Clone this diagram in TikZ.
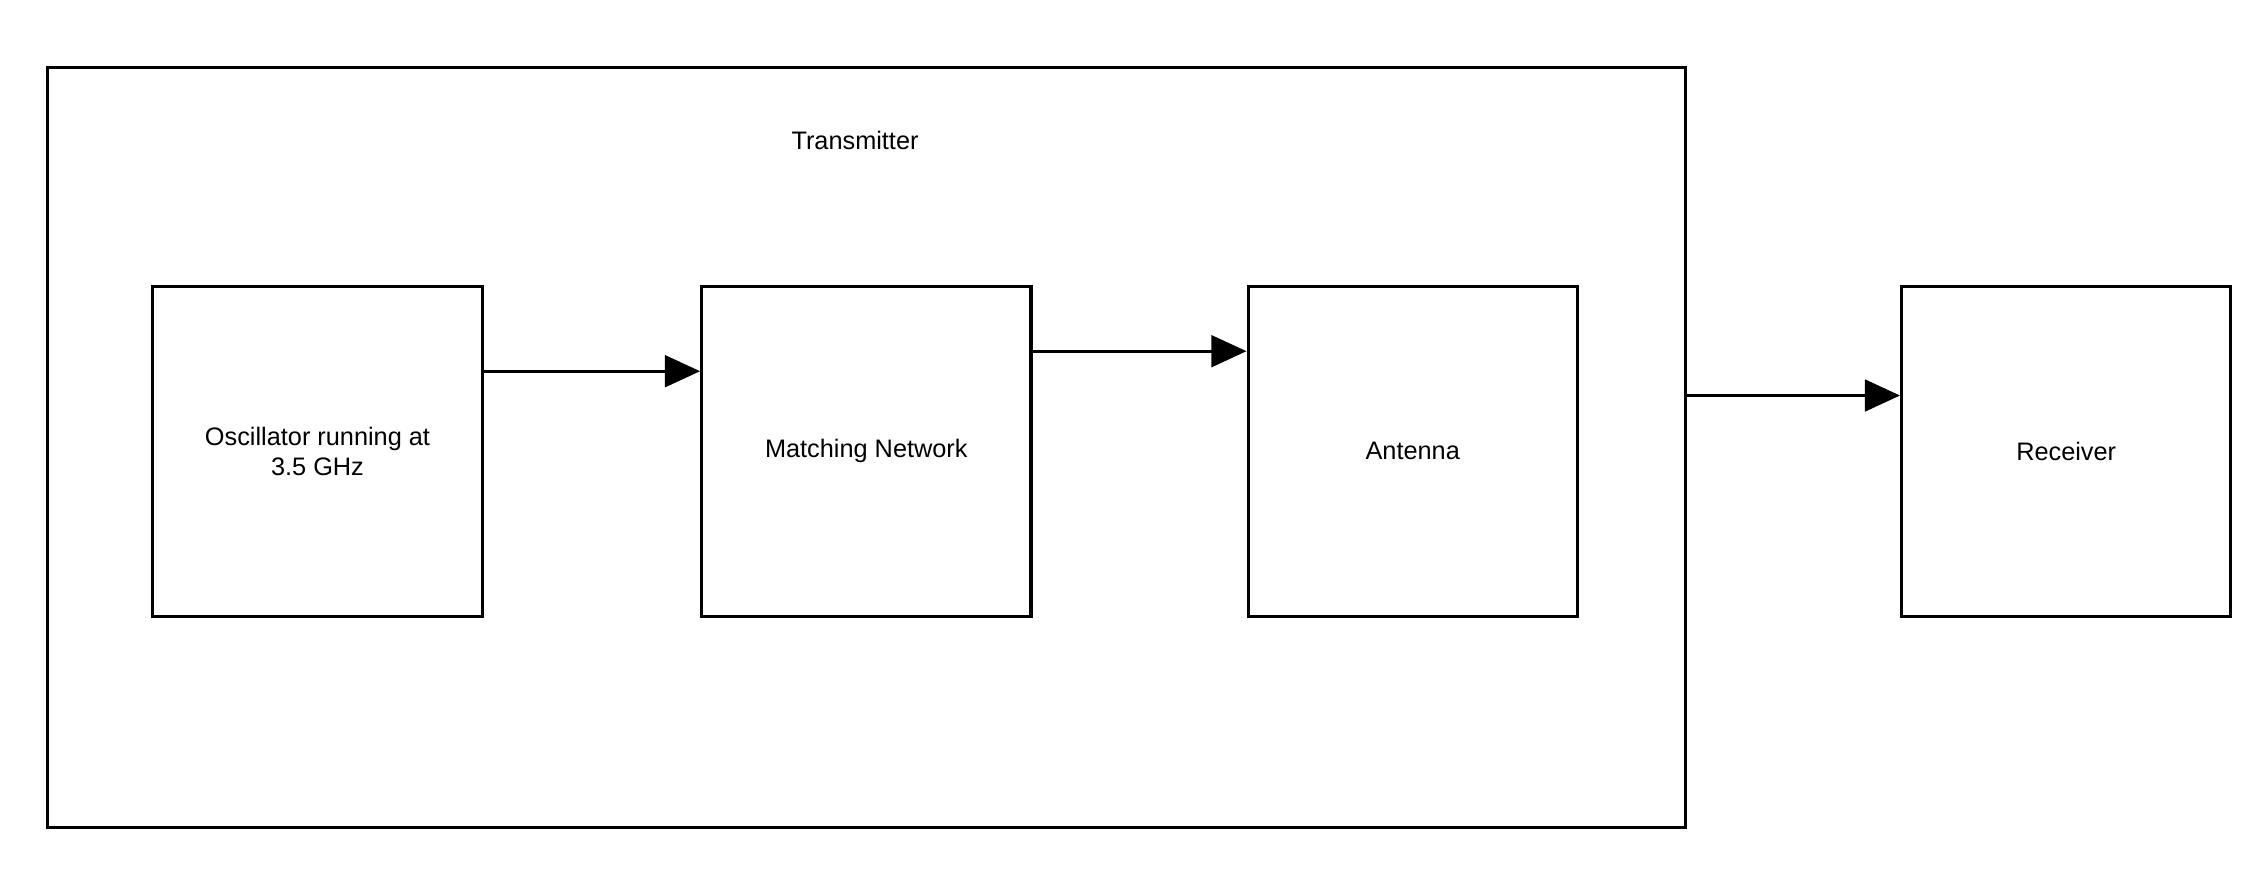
\documentclass[tikz,border=0pt]{standalone}
\usepackage{fontspec}
\setmainfont{Liberation Sans}
\usetikzlibrary{arrows.meta}
\usetikzlibrary{positioning}

\tikzset{
  bloc/.style={draw=black, line width=1.3pt, minimum width=4.94cm, minimum height=4.95cm, align=center, inner sep=0pt},
  fleche/.style={line width=1.3pt, -{Triangle[length=15pt,width=13.5pt]}}
}

\begin{document}
\begin{tikzpicture}[x=0.015cm,y=-0.015cm,font=\fontsize{10.8}{12.8}\selectfont]
\useasboundingbox (0,0) rectangle (2264,878);

% Cadre emetteur
\node[draw=black, line width=1.3pt, minimum width=24.56cm, minimum height=11.39cm, inner sep=0pt] (trans) at (866.3,447.5) {};
\node (titre) at (855,140) {Transmitter};

% Blocs
\node[bloc] (osc) at (317.5,451.2) {Oscillator running at\\3.5 GHz};
\node[bloc] (match) at (866.3,451.2) {Matching Network};
\node[bloc] (ant) at (1412.7,451.2) {Antenna};
\node[bloc] (rx) at (2066.2,451.2) {Receiver};

% Fleches
\draw[fleche] ([yshift=1.2cm]osc.east) -- ([yshift=1.2cm]match.west);
\draw[fleche] ([yshift=1.5cm]match.east) -- ([yshift=1.5cm]ant.west);
\draw[fleche] ([yshift=0.78cm]trans.east) -- ([yshift=0.78cm]trans.east -| rx.west);
\end{tikzpicture}
\end{document}
